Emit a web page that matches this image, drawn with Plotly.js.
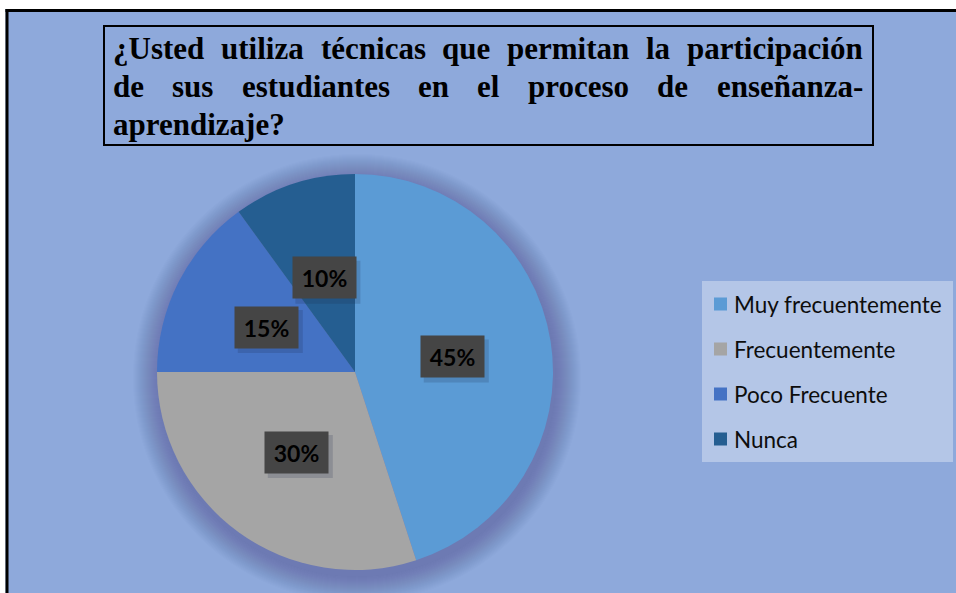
<!DOCTYPE html>
<html>
<head>
<meta charset="utf-8">
<script src="https://cdn.plot.ly/plotly-3.0.1.min.js"></script>
<style>html,body{margin:0;padding:0;background:#fff;overflow:hidden;}#chart{width:956px;height:593px;}</style>
</head>
<body>
<div id="chart"></div>
<script>
// ---- data ----
const categories = ["Muy frecuentemente", "Frecuentemente", "Poco Frecuente", "Nunca"];
const values = [45, 30, 15, 10];
const colors = ["#5B9BD5", "#A5A5A5", "#4472C4", "#255E91"];
const titleLines = [
  "¿Usted utiliza técnicas que permitan la participación",
  "de sus estudiantes en el proceso de enseñanza-",
  "aprendizaje?"
];

// ---- layout helpers ----
const W = 956, H = 593;
const X = px => px / W;
const Y = py => 1 - py / H;

const cx = 355, cy = 372, R = 198;

const shapes = [];
const annotations = [];

// white margins at top/left and black frame lines
shapes.push({type: "rect", xref: "paper", yref: "paper", layer: "below",
  x0: 0, x1: 1, y0: Y(9), y1: 1, fillcolor: "#ffffff", line: {width: 0}});
shapes.push({type: "rect", xref: "paper", yref: "paper", layer: "below",
  x0: 0, x1: X(5.5), y0: 0, y1: 1, fillcolor: "#ffffff", line: {width: 0}});
shapes.push({type: "line", xref: "paper", yref: "paper", layer: "above",
  x0: X(5.5), x1: 1, y0: Y(10.5), y1: Y(10.5), line: {color: "#000", width: 3}});
shapes.push({type: "line", xref: "paper", yref: "paper", layer: "above",
  x0: X(7), x1: X(7), y0: Y(9), y1: 0, line: {color: "#000", width: 3}});

// pie soft shadow
for (let i = 26; i >= 1; i--) {
  const r = R + i;
  shapes.push({type: "circle", xref: "paper", yref: "paper", layer: "below",
    x0: X(cx + 2 - r), x1: X(cx + 2 + r), y0: Y(cy + 6 + r), y1: Y(cy + 6 - r),
    fillcolor: "rgba(60,75,115,0.014)", line: {width: 0}});
}

// title box
shapes.push({type: "rect", xref: "paper", yref: "paper", layer: "above",
  x0: X(104), x1: X(873), y0: Y(26), y1: Y(145),
  fillcolor: "rgba(0,0,0,0)", line: {color: "#000", width: 2}});

const titleFontSize = 31;
const titleFamily = "Liberation Serif";
const cv = document.createElement("canvas").getContext("2d");
cv.font = "bold " + titleFontSize + "px '" + titleFamily + "'";
const left = 113, right = 863;
const lineCenters = [49, 87, 124];
titleLines.forEach((line, li) => {
  const words = line.split(" ");
  const justify = li < titleLines.length - 1;
  const widths = words.map(w => cv.measureText(w).width);
  const total = widths.reduce((a, b) => a + b, 0);
  const gap = justify && words.length > 1 ? (right - left - total) / (words.length - 1) : cv.measureText(" ").width;
  let xpos = left;
  words.forEach((w, wi) => {
    annotations.push({xref: "paper", yref: "paper", x: X(xpos), y: Y(lineCenters[li]),
      xanchor: "left", yanchor: "middle", showarrow: false, text: "<b>" + w + "</b>",
      borderpad: 0, borderwidth: 0,
      font: {family: titleFamily, size: titleFontSize, color: "#000"}});
    xpos += widths[wi] + gap;
  });
});

// data labels placed at half radius of each slice's mid angle
const sum = values.reduce((a, b) => a + b, 0);
let cum = 0;
values.forEach((v, i) => {
  const mid = (cum + v / 2) / sum;
  cum += v;
  const th = 2 * Math.PI * mid;
  const lx = cx + 0.5 * R * Math.sin(th);
  const ly = cy - 0.5 * R * Math.cos(th);
  shapes.push({type: "rect", xref: "paper", yref: "paper", layer: "above",
    x0: X(lx - 31 + 2), x1: X(lx + 32 + 4), y0: Y(ly - 20 + 3), y1: Y(ly + 21 + 5),
    fillcolor: "rgba(30,40,70,0.18)", line: {width: 0}});
  annotations.push({xref: "paper", yref: "paper", x: X(lx), y: Y(ly),
    xanchor: "center", yanchor: "middle", showarrow: false,
    text: "<b>" + Math.round(v / sum * 100) + "%</b>",
    width: 63, height: 41, bgcolor: "#454545", borderpad: 0,
    font: {family: "Lato", size: 23, color: "#000"}});
});

// legend (manual)
shapes.push({type: "rect", xref: "paper", yref: "paper", layer: "above",
  x0: X(702), x1: X(953), y0: Y(281), y1: Y(462),
  fillcolor: "#B4C6E7", line: {width: 0}});
categories.forEach((c, i) => {
  const ry = 304 + i * 45;
  shapes.push({type: "rect", xref: "paper", yref: "paper", layer: "above",
    x0: X(714), x1: X(727), y0: Y(ry - 6.5), y1: Y(ry + 6.5),
    fillcolor: colors[i], line: {width: 0}});
  annotations.push({xref: "paper", yref: "paper", x: X(733), y: Y(ry),
    xanchor: "left", yanchor: "middle", showarrow: false, text: c,
    borderpad: 0, font: {family: "Lato", size: 22.5, color: "#0d0d0d"}});
});

const trace = {
  type: "pie",
  labels: categories,
  values: values,
  sort: false,
  direction: "clockwise",
  rotation: 0,
  textinfo: "none",
  hoverinfo: "label+percent",
  marker: {colors: colors, line: {width: 0}},
  showlegend: false,
  domain: {x: [X(cx - R), X(cx + R)], y: [Y(cy + R), Y(cy - R)]}
};

const layout = {
  width: W, height: H,
  margin: {l: 0, r: 0, t: 0, b: 0},
  paper_bgcolor: "#8EA9DB",
  showlegend: false,
  shapes: shapes,
  annotations: annotations
};

Plotly.newPlot("chart", [trace], layout, {displayModeBar: false, staticPlot: true});
</script>
</body>
</html>
